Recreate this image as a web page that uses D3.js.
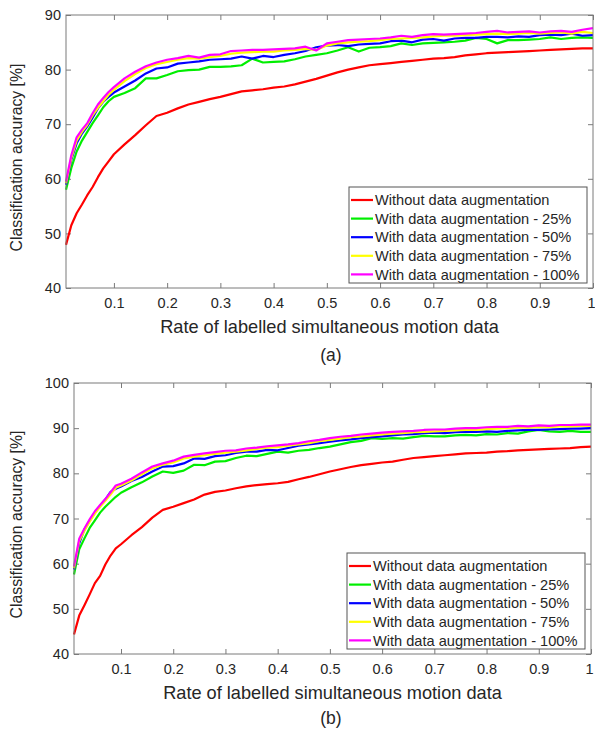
<!DOCTYPE html>
<html>
<head>
<meta charset="utf-8">
<script src="https://cdn.jsdelivr.net/npm/d3@7"></script>
<style>
  body { margin: 0; background: #fff; }
  svg { display: block; font-family: "Liberation Sans", Arial, sans-serif; }
</style>
</head>
<body>
<svg id="chart" width="595" height="736"></svg>
<script>
// x positions (rate of labelled data)
var xs = [0.01,0.02,0.03,0.04,0.05,0.06,0.07,0.08,0.09,0.10,
  0.12,0.14,0.16,0.18,0.20,0.22,0.24,0.26,0.28,0.30,
  0.32,0.34,0.36,0.38,0.40,0.42,0.44,0.46,0.48,0.50,
  0.52,0.54,0.56,0.58,0.60,0.62,0.64,0.66,0.68,0.70,
  0.72,0.74,0.76,0.78,0.80,0.82,0.84,0.86,0.88,0.90,
  0.92,0.94,0.96,0.98,1.00];

var seriesNames = ['Without data augmentation', 'With data augmentation - 25%',
  'With data augmentation - 50%', 'With data augmentation - 75%', 'With data augmentation - 100%'];
var seriesColors = ['#ff0000', '#00ee00', '#0000ff', '#ffff00', '#ff00ff'];

var xTicks = [0.1,0.2,0.3,0.4,0.5,0.6,0.7,0.8,0.9,1];
var yTicksA = [40,50,60,70,80,90];
var yTicksB = [40,50,60,70,80,90,100];

// panel (a)
var redA = [47.9,51.5,53.7,55.3,57.0,58.5,60.3,61.9,63.2,64.5,
  66.3,68.0,69.8,71.5,72.1,72.9,73.6,74.1,74.6,75.0,
  75.5,76.0,76.2,76.4,76.7,76.9,77.3,77.8,78.3,78.9,
  79.5,80.0,80.4,80.8,81.0,81.2,81.4,81.6,81.8,82.0,
  82.1,82.3,82.6,82.8,83.0,83.1,83.2,83.3,83.4,83.5,
  83.6,83.7,83.8,83.9,83.9];
var greenA = [58.0,62.0,65.0,67.0,68.6,70.2,71.6,73.1,74.2,75.0,
  75.7,76.6,78.4,78.4,79.0,79.7,79.9,80.0,80.5,80.5,
  80.6,80.8,82.0,81.3,81.4,81.5,81.9,82.4,82.7,83.0,
  83.5,84.1,83.3,84.0,84.1,84.3,84.8,84.5,84.8,84.9,
  85.0,85.1,85.3,85.8,85.6,84.8,85.4,85.4,85.5,85.6,
  85.9,85.6,85.8,85.9,85.8];
var blueA = [58.9,63.5,66.5,68.3,69.6,71.2,72.9,74.1,75.0,75.8,
  76.9,78.0,79.3,80.2,80.4,81.1,81.3,81.5,81.8,81.9,
  82.0,82.4,82.0,82.5,82.3,82.7,83.0,83.4,84.1,84.4,
  84.5,84.3,84.6,84.7,84.8,85.2,85.3,85.0,85.5,85.6,
  85.3,85.7,85.8,85.8,86.0,86.0,85.9,86.1,86.0,86.3,
  86.4,86.3,86.6,86.2,86.3];
var yellowA = [59.2,63.8,67.0,68.6,69.9,71.6,73.0,74.2,75.4,76.3,
  77.9,79.2,80.3,81.0,81.4,81.8,82.1,82.0,82.3,82.5,
  82.9,83.1,83.2,83.3,83.3,83.5,83.6,83.8,83.6,84.4,
  84.8,85.0,85.1,85.2,85.4,85.6,85.7,85.8,85.9,86.1,
  86.2,86.2,86.3,86.4,86.5,86.6,86.5,86.6,86.7,86.6,
  86.7,86.8,86.6,86.9,86.7];
var magentaA = [59.5,64.3,67.6,69.0,70.2,72.0,73.6,74.8,75.9,76.8,
  78.4,79.6,80.6,81.3,81.8,82.1,82.5,82.2,82.7,82.8,
  83.4,83.5,83.6,83.6,83.7,83.8,83.9,84.2,83.5,84.8,
  85.1,85.4,85.5,85.6,85.7,85.9,86.2,86.0,86.3,86.5,
  86.4,86.5,86.6,86.7,86.9,87.1,86.8,86.9,87.0,86.8,
  87.0,87.1,86.9,87.3,87.6];

// panel (b)
var redB = [44.3,48.5,50.8,53.2,55.7,57.3,59.8,61.8,63.4,64.3,
  66.3,68.1,70.2,71.9,72.6,73.4,74.2,75.3,75.9,76.2,
  76.7,77.1,77.4,77.6,77.8,78.1,78.7,79.2,79.8,80.4,
  80.9,81.4,81.8,82.1,82.4,82.6,83.0,83.4,83.6,83.8,
  84.0,84.2,84.4,84.5,84.6,84.8,84.9,85.1,85.2,85.3,
  85.4,85.5,85.6,85.8,85.9];
var greenB = [57.6,63.2,65.6,67.9,69.6,71.3,72.6,73.7,74.8,75.7,
  76.9,78.0,79.3,80.4,80.1,80.6,81.9,81.8,82.6,82.7,
  83.4,83.9,83.8,84.3,84.8,84.6,85.0,85.2,85.6,85.9,
  86.4,86.9,87.2,87.8,87.6,87.8,87.7,88.0,88.3,88.2,
  88.2,88.4,88.5,88.4,88.7,88.6,88.9,88.8,89.3,89.6,
  89.3,89.2,89.4,89.2,89.2];
var blueB = [58.7,64.5,67.6,69.5,71.3,72.8,74.2,75.9,76.6,77.1,
  78.3,79.2,80.4,81.5,81.6,82.2,83.3,83.2,83.8,84.0,
  84.5,84.8,84.8,85.2,85.1,85.6,86.1,86.4,86.7,87.0,
  87.3,87.5,87.8,88.0,88.2,88.4,88.6,88.7,88.9,89.0,
  88.9,89.1,89.2,89.2,89.3,89.2,89.4,89.5,89.6,89.6,
  89.7,89.8,89.9,89.9,90.0];
var yellowB = [59.0,65.0,67.3,69.3,71.1,72.6,73.9,75.3,76.8,77.3,
  78.4,79.8,81.1,81.9,82.4,83.3,83.7,84.0,84.3,84.6,
  84.8,85.1,85.4,85.7,85.8,86.1,86.4,86.7,87.1,87.4,
  87.7,88.0,88.2,88.4,88.6,88.8,88.9,89.1,89.2,89.3,
  89.4,89.5,89.6,89.6,89.8,89.9,90.0,90.1,90.1,90.3,
  90.2,90.4,90.4,90.5,90.5];
var magentaB = [59.4,65.5,67.8,69.8,71.6,73.0,74.3,75.8,77.3,77.7,
  78.8,80.2,81.5,82.2,82.8,83.7,84.1,84.4,84.7,85.0,
  85.1,85.5,85.7,86.0,86.2,86.4,86.7,87.1,87.4,87.8,
  88.1,88.3,88.6,88.8,89.0,89.2,89.3,89.4,89.6,89.7,
  89.7,89.9,90.0,90.0,90.2,90.3,90.3,90.5,90.4,90.6,
  90.5,90.7,90.7,90.8,90.8];

var svg = d3.select('#chart');
var frameColor = '#7a7a7a';
var textColor = '#262626';

function drawPanel(p) {
  var x = d3.scaleLinear().domain([0.01, 1]).range([p.left, p.right]);
  var y = d3.scaleLinear().domain(p.yDomain).range([p.bottom, p.top]);
  var g = svg.append('g');

  // ticks (inward, on all four sides like a boxed MATLAB axis)
  var axB = g.append('g').attr('transform', 'translate(0,' + p.bottom + ')')
    .call(d3.axisBottom(x).tickValues(xTicks).tickFormat(d3.format('~g'))
      .tickSizeInner(-5).tickSizeOuter(0).tickPadding(10));
  var axT = g.append('g').attr('transform', 'translate(0,' + p.top + ')')
    .call(d3.axisTop(x).tickValues(xTicks).tickFormat('').tickSizeInner(-5).tickSizeOuter(0));
  var axL = g.append('g').attr('transform', 'translate(' + p.left + ',0)')
    .call(d3.axisLeft(y).tickValues(p.yTicks).tickSizeInner(-5).tickSizeOuter(0).tickPadding(5));
  var axR = g.append('g').attr('transform', 'translate(' + p.right + ',0)')
    .call(d3.axisRight(y).tickValues(p.yTicks).tickFormat('').tickSizeInner(-5).tickSizeOuter(0));

  [axB, axT, axL, axR].forEach(function(a){
    a.select('.domain').remove();
    a.selectAll('line').attr('stroke', frameColor);
    a.selectAll('text').attr('fill', textColor).style('font-size', '14.5px')
      .style('font-family', '"Liberation Sans", Arial, sans-serif');
  });
  // keep the last x label inside the page
  axB.selectAll('.tick').filter(function(d){ return d === 1; })
    .select('text').attr('dx', '-2');

  // lines
  var line = d3.line()
    .x(function(d, i){ return x(xs[i]); })
    .y(function(d){ return y(d); });

  g.append('g').selectAll('path')
    .data(p.series)
    .enter()
    .append('path')
    .attr('d', line)
    .attr('fill', 'none')
    .attr('stroke', function(d, i){ return seriesColors[i]; })
    .attr('stroke-width', 2.2)
    .attr('stroke-linejoin', 'round');

  // box
  g.append('rect')
    .attr('x', p.left).attr('y', p.top)
    .attr('width', p.right - p.left).attr('height', p.bottom - p.top)
    .attr('fill', 'none').attr('stroke', frameColor).attr('stroke-width', 1);

  // legend
  var lw = 238, lh = 96;
  var lx = p.right - 6 - lw, ly = p.bottom - 5 - lh;
  var leg = g.append('g').attr('transform', 'translate(' + lx + ',' + ly + ')');
  leg.append('rect').attr('width', lw).attr('height', lh)
    .attr('fill', '#fff').attr('stroke', '#555').attr('stroke-width', 1);
  var rows = leg.selectAll('g.row')
    .data(seriesNames)
    .enter()
    .append('g')
    .attr('class', 'row')
    .attr('transform', function(d, i){ return 'translate(0,' + (13 + i * 18.6) + ')'; });
  rows.append('line')
    .attr('x1', 2).attr('x2', 24).attr('y1', 0).attr('y2', 0)
    .attr('stroke', function(d, i){ return seriesColors[i]; })
    .attr('stroke-width', 2.2);
  rows.append('text')
    .attr('x', 26).attr('dy', '0.35em')
    .attr('fill', textColor)
    .style('font-size', '14.6px')
    .text(function(d){ return d; });

  // axis labels
  svg.append('text')
    .attr('transform', 'translate(' + 22 + ',' + ((p.top + p.bottom) / 2 + 6) + ') rotate(-90)')
    .attr('text-anchor', 'middle')
    .attr('fill', textColor)
    .style('font-size', '15.8px')
    .text('Classification accuracy [%]');
  svg.append('text')
    .attr('x', (p.left + p.right) / 2).attr('y', p.bottom + 45)
    .attr('text-anchor', 'middle')
    .attr('fill', textColor)
    .style('font-size', '18.2px')
    .text('Rate of labelled simultaneous motion data');
  svg.append('text')
    .attr('x', 331).attr('y', p.captionY)
    .attr('text-anchor', 'middle')
    .attr('fill', textColor)
    .style('font-size', '17.5px')
    .text(p.caption);
}

drawPanel({
  left: 66, right: 593, top: 15, bottom: 288,
  yDomain: [40, 90], yTicks: yTicksA,
  series: [redA, greenA, blueA, yellowA, magentaA],
  caption: '(a)', captionY: 361
});

drawPanel({
  left: 74, right: 591, top: 383, bottom: 654,
  yDomain: [40, 100], yTicks: yTicksB,
  series: [redB, greenB, blueB, yellowB, magentaB],
  caption: '(b)', captionY: 724
});
</script>
</body>
</html>
